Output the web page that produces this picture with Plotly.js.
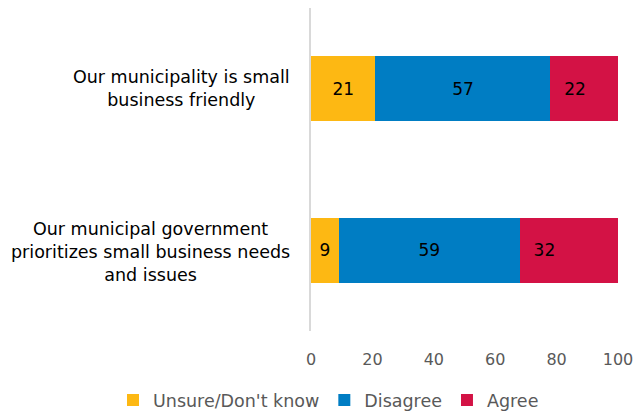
<!DOCTYPE html>
<html>
<head>
<meta charset="utf-8">
<script src="https://cdn.plot.ly/plotly-3.0.1.min.js"></script>
<style>html,body{margin:0;padding:0;background:#fff}#chart{width:637px;height:413px}</style>
</head>
<body>
<div id="chart"></div>
<script>
const categories = [
  "Our municipality is small<br>business friendly",
  "Our municipal government<br>prioritizes small business needs<br>and issues"
];
const seriesNames = ["Unsure/Don't know", "Disagree", "Agree"];
const unsure = [21, 9];
const disagree = [57, 59];
const agree = [22, 32];
const xTicks = [0, 20, 40, 60, 80, 100];

const colors = ["#FDB813", "#007DC3", "#D31245"];
const font = "'DejaVu Sans', Verdana, sans-serif";
const values = [unsure, disagree, agree];

const traces = values.map((v, i) => ({
  type: "bar",
  orientation: "h",
  name: seriesNames[i],
  y: categories,
  x: v,
  text: v.map(String),
  texttemplate: i === 2 ? "\u00a0\u00a0%{text}" : "%{text}",
  textposition: "inside",
  insidetextanchor: i === 2 ? "start" : "middle",
  insidetextfont: {family: font, size: 17, color: "#000000"},
  marker: {color: colors[i], line: {width: 0}},
  hoverinfo: "none"
}));

const annotations = categories.map(c => ({
  xref: "paper", yref: "y",
  x: -0.062, y: c,
  xanchor: "right", yanchor: "middle",
  align: "center",
  text: c,
  yshift: c.split("<br>").length > 2 ? -2 : 0,
  showarrow: false,
  font: {family: font, size: 17.5, color: "#000000"}
}));

const layout = {
  width: 637, height: 413,
  margin: {l: 311, r: 19, t: 8, b: 82, autoexpand: false},
  barmode: "stack",
  bargap: 0.6,
  paper_bgcolor: "#ffffff",
  plot_bgcolor: "#ffffff",
  showlegend: true,
  legend: {
    orientation: "h",
    xref: "paper", yref: "paper",
    x: -0.645, xanchor: "left",
    y: -0.214, yanchor: "middle",
    font: {family: font, size: 17.5, color: "#595959"},
    traceorder: "normal",
    itemwidth: 30
  },
  xaxis: {
    range: [0, 100],
    tickvals: xTicks,
    ticktext: xTicks.map(String),
    showgrid: false,
    zeroline: false,
    showline: false,
    ticks: "",
    ticklabelstandoff: 17,
    tickfont: {family: font, size: 16, color: "#595959"},
    fixedrange: true
  },
  yaxis: {
    autorange: "reversed",
    showticklabels: false,
    showgrid: false,
    zeroline: false,
    showline: true,
    linecolor: "#d9d9d9",
    linewidth: 2,
    ticks: "",
    fixedrange: true
  },
  annotations: annotations
};

Plotly.newPlot("chart", traces, layout, {displayModeBar: false, staticPlot: true});
</script>
</body>
</html>
